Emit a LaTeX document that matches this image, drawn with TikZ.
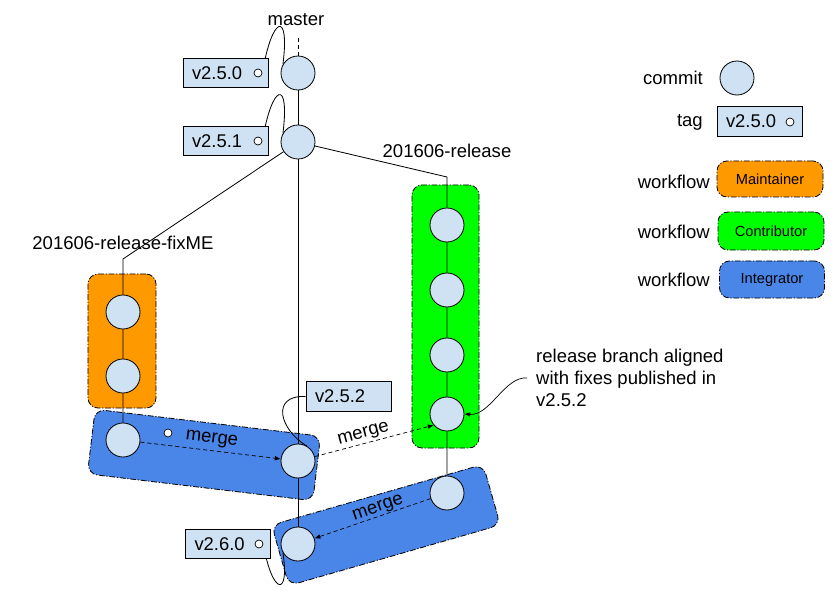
\documentclass[tikz,border=0pt]{standalone}
\usepackage{fontspec}
\setmainfont{Liberation Sans}
\usetikzlibrary{arrows.meta}
\definecolor{commitblue}{HTML}{CFE2F3}
\definecolor{maintorange}{HTML}{FF9900}
\definecolor{contribgreen}{HTML}{00FF00}
\definecolor{integblue}{HTML}{4A86E8}
\pgfdeclarelayer{boxes}
\pgfdeclarelayer{lines}
\pgfsetlayers{boxes,lines,main}
\tikzset{
  txt/.style={font=\fontsize{15.8}{19}\selectfont},
  commit/.style={circle, draw, fill=commitblue, minimum size=1.02cm, inner sep=0pt, line width=0.7pt},
  tagbox/.style={draw, fill=commitblue, minimum height=0.88cm, text width=2.01cm, inner xsep=0.27cm, inner ysep=0pt, align=left, line width=0.7pt, font=\fontsize{15.7}{18}\selectfont},
  tagdot/.style={circle, draw, fill=white, minimum size=0.24cm, inner sep=0pt, line width=0.6pt},
  flowbox/.style={draw, rounded corners=0.3cm, inner sep=0pt, line width=0.7pt, dash pattern=on 5pt off 1.5pt on 1pt off 1.5pt},
  mergeline/.style={line width=0.6pt, dash pattern=on 3.5pt off 2.5pt, -{Latex[length=5pt,width=4pt]}},
  mergetxt/.style={txt, above, sloped, inner sep=1.5pt},
  branch/.style={line width=0.7pt}
}
\begin{document}
\begin{tikzpicture}[x=0.03cm, y=-0.03cm]
\useasboundingbox (0,0) rectangle (837,595);
% commits
\node[commit] (c250) at (298,73) {};
\node[commit] (c251) at (298,142) {};
\node[commit] (o1) at (123,312) {};
\node[commit] (o2) at (123,376) {};
\node[commit] (b1) at (123,440) {};
\node[commit] (m1) at (298,461) {};
\node[commit] (g1) at (447,225) {};
\node[commit] (g2) at (447,290) {};
\node[commit] (g3) at (447,355) {};
\node[commit] (g4) at (447,414) {};
\node[commit] (g5) at (447,493) {};
\node[commit] (c260) at (298,544) {};
\coordinate (relcorner) at (447,177);
\coordinate (fixcorner) at (123,259);
% tags
\node[tagbox] (t250) at (225.5,73) {v2.5.0};
\node[tagdot] (d250) at (258,73) {};
\node[tagbox] (t251) at (225.5,141) {v2.5.1};
\node[tagdot] (d251) at (258,141) {};
\node[tagbox] (t252) at (348.5,396.5) {v2.5.2};
\node[tagbox] (t260) at (228,544) {v2.6.0};
\node[tagdot] (d260) at (259,544) {};
% branch names
\node[txt] (master) at (296,20) {master};
\node[txt] (relname) at (447,151) {201606-release};
\node[txt] (fixname) at (123,243) {201606-release-fixME};
\node[txt, anchor=west, align=left, inner xsep=0.27cm] (note) at (527,378) {release branch aligned\\with fixes published in\\v2.5.2};
\node[tagdot] (mdot) at (168,433) {};
\begin{pgfonlayer}{boxes}
\node[flowbox, fill=maintorange, minimum width=2.04cm, minimum height=4.02cm] (fixbox) at (122,341) {};
\node[flowbox, fill=contribgreen, minimum width=2.01cm, minimum height=7.89cm] (relbox) at (445.5,316.5) {};
\node[flowbox, fill=integblue, minimum width=6.81cm, minimum height=1.95cm, rotate=-6.8] (intbox1) at (204,455) {};
\node[flowbox, fill=integblue, minimum width=6.6cm, minimum height=1.89cm, rotate=16] (intbox2) at (386,525) {};
\end{pgfonlayer}
\begin{pgfonlayer}{lines}
\draw[branch, dashed] (c250.north) -- ([yshift=-5pt]c250.north |- master.south);
\draw[branch] (c250) -- (c251) -- (m1) -- (c260);
\draw[branch] (c251) -- (relcorner) -- (g1) -- (g2) -- (g3) -- (g4) -- (g5);
\draw[branch] (c251) -- (fixcorner) -- (o1) -- (o2) -- (b1);
\draw[branch] (d250.east) .. controls (272,15) and (290,10) .. (c250.150);
\draw[branch] (d251.east) .. controls (272,83) and (290,78) .. (c251.150);
\draw[branch] (t252.west) .. controls (270,395) and (280,430) .. (m1.60);
\draw[branch] (d260.east) .. controls (272,595) and (290,598) .. (c260.210);
\end{pgfonlayer}
% merges
\draw[mergeline] (b1) -- node[mergetxt, inner sep=3pt] (mtxt1) {merge} (m1);
\draw[mergeline] (m1) -- node[mergetxt, pos=0.43] (mtxt2) {merge} (g4.220);
\draw[mergeline] (g5) -- node[mergetxt, pos=0.43, inner sep=0pt] (mtxt3) {merge} (c260);
\draw[line width=0.6pt, -{Latex[length=5pt,width=4pt]}] (note.west) .. controls (505,376) and (490,416) .. (g4.east);
% legend
\node[txt, anchor=east, inner sep=0pt] (lcommittxt) at (703,78) {commit};
\node[commit] (lcommit) at (737,78) {};
\node[txt, anchor=east, inner sep=0pt] (ltagtxt) at (703,122) {tag};
\node[tagbox] (ltag) at (759.5,121.5) {v2.5.0};
\node[tagdot] (ldot) at (790,122) {};
\node[txt, anchor=east, inner sep=0pt] (lflow1) at (710,182) {workflow};
\node[txt, anchor=east, inner sep=0pt] (lflow2) at (710,232) {workflow};
\node[txt, anchor=east, inner sep=0pt] (lflow3) at (710,280) {workflow};
\node[flowbox, fill=maintorange, minimum width=3.18cm, minimum height=1.08cm, font=\fontsize{12.5}{15}\selectfont] (lmaint) at (770,179) {Maintainer};
\node[flowbox, fill=contribgreen, minimum width=3.18cm, minimum height=1.14cm, font=\fontsize{12.5}{15}\selectfont] (lcontrib) at (771,231) {Contributor};
\node[flowbox, fill=integblue, minimum width=3.15cm, minimum height=1.11cm, font=\fontsize{12.5}{15}\selectfont] (linteg) at (772,279.5) {Integrator};
\end{tikzpicture}
\end{document}
